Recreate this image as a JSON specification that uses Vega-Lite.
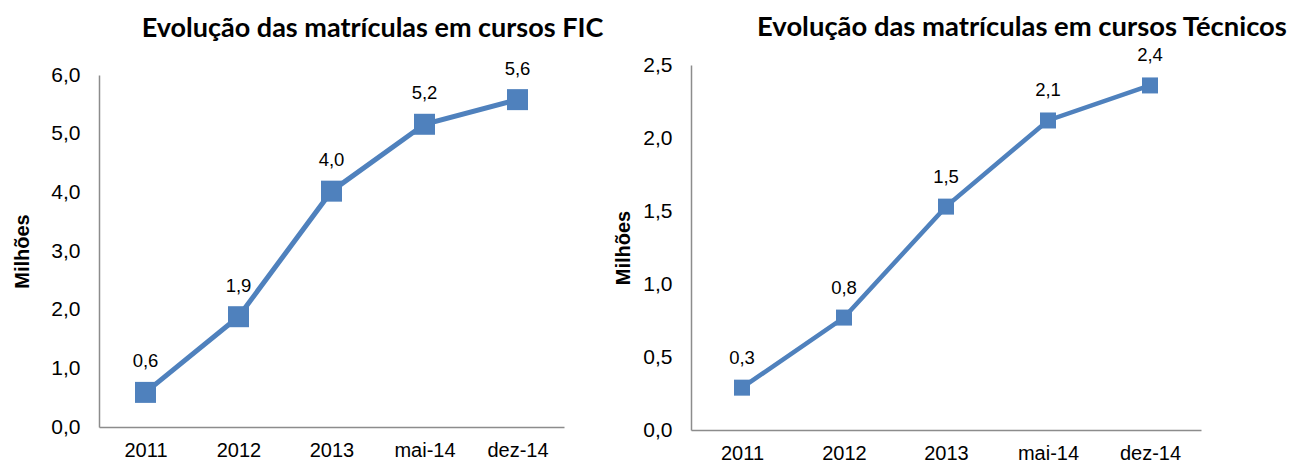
{
  "$schema": "https://vega.github.io/schema/vega-lite/v6.json",
  "background": "white",
  "padding": {"left": 12, "top": 14, "right": 0, "bottom": 0},
  "columns": 2,
  "align": "none",
  "bounds": "full",
  "spacing": 9,
  "config": {
    "locale": {"number": {"decimal": ",", "thousands": ".", "grouping": [3], "currency": ["R$", ""]}},
    "view": {"stroke": null},
    "axis": {
      "grid": false, "ticks": false, "tickSize": 0,
      "domainColor": "#8C8C8C", "domainWidth": 1.5,
      "labelFont": "Liberation Sans", "labelFontSize": 20, "labelColor": "#000000",
      "titleFont": "Liberation Sans", "titleFontSize": 20, "titleFontWeight": "bold", "titleColor": "#000000"
    },
    "title": {"font": "Lato", "fontSize": 27, "fontWeight": "bold", "color": "#000000", "anchor": "middle"}
  },
  "concat": [
    {
      "width": 465, "height": 362,
      "title": {"text": "Evolução das matrículas em cursos FIC", "dx": 41, "offset": -4, "baseline": "alphabetic"},
      "data": {"values": [
        {"periodo": "2011", "valor": 0.59},
        {"periodo": "2012", "valor": 1.88},
        {"periodo": "2013", "valor": 4.02},
        {"periodo": "mai-14", "valor": 5.16},
        {"periodo": "dez-14", "valor": 5.58}
      ]},
      "encoding": {
        "x": {"field": "periodo", "type": "ordinal", "sort": null, "scale": {"padding": 0.5},
              "axis": {"title": null, "labelAngle": 0, "labelPadding": 13}},
        "y": {"field": "valor", "type": "quantitative", "scale": {"domain": [0, 6], "nice": false, "range": [362, 10]},
              "axis": {"title": "Milhões", "values": [0, 1, 2, 3, 4, 5, 6], "format": ".1f", "labelFontSize": 21, "labelPadding": 19, "titlePadding": 18}}
      },
      "layer": [
        {"mark": {"type": "line", "color": "#4F81BD", "strokeWidth": 5}},
        {"mark": {"type": "point", "shape": "square", "size": 441, "filled": true, "opacity": 1, "color": "#4F81BD"}},
        {"mark": {"type": "text", "yOffset": -31, "baseline": "middle", "align": "center", "font": "Liberation Sans", "fontSize": 18.5, "color": "#000000"},
         "encoding": {"text": {"field": "valor", "type": "quantitative", "format": ".1f"}}}
      ]
    },
    {
      "width": 510, "height": 365,
      "title": {"text": "Evolução das matrículas em cursos Técnicos", "dx": 76, "offset": -17, "baseline": "alphabetic", "fontSize": 27.4},
      "data": {"values": [
        {"periodo": "2011", "valor": 0.29},
        {"periodo": "2012", "valor": 0.77},
        {"periodo": "2013", "valor": 1.53},
        {"periodo": "mai-14", "valor": 2.12},
        {"periodo": "dez-14", "valor": 2.36}
      ]},
      "encoding": {
        "x": {"field": "periodo", "type": "ordinal", "sort": null, "scale": {"padding": 0.5},
              "axis": {"title": null, "labelAngle": 0, "labelPadding": 13}},
        "y": {"field": "valor", "type": "quantitative", "scale": {"domain": [0, 2.5], "nice": false},
              "axis": {"title": "Milhões", "values": [0, 0.5, 1, 1.5, 2, 2.5], "format": ".1f", "labelFontSize": 21, "labelPadding": 19, "titlePadding": 9}}
      },
      "layer": [
        {"mark": {"type": "line", "color": "#4F81BD", "strokeWidth": 4.5}},
        {"mark": {"type": "point", "shape": "square", "size": 256, "filled": true, "opacity": 1, "color": "#4F81BD"}},
        {"mark": {"type": "text", "yOffset": -30, "baseline": "middle", "align": "center", "font": "Liberation Sans", "fontSize": 18.5, "color": "#000000"},
         "encoding": {"text": {"field": "valor", "type": "quantitative", "format": ".1f"}}}
      ]
    }
  ]
}
